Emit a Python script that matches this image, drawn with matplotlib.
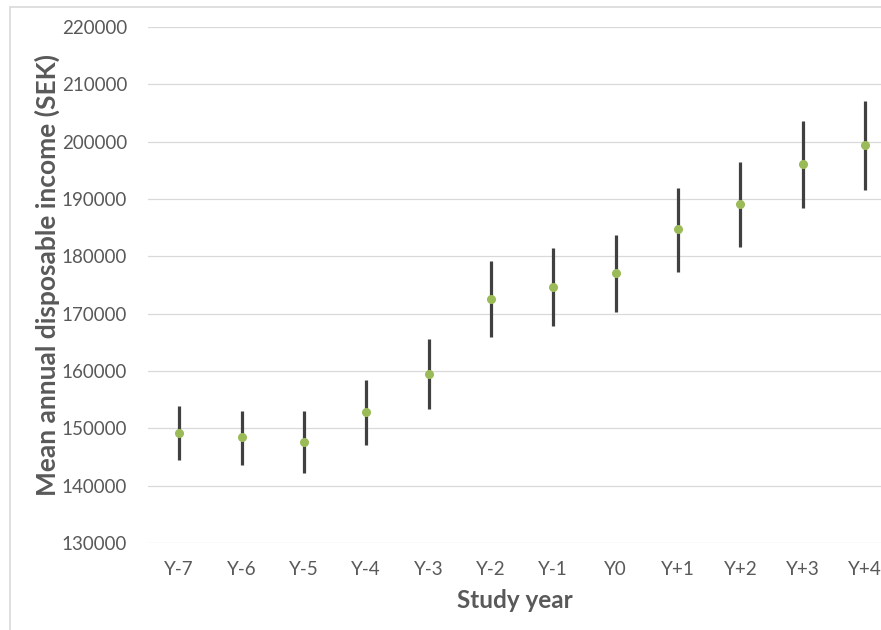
import matplotlib
matplotlib.use("Agg")
import matplotlib.pyplot as plt
from matplotlib.patches import Rectangle

plt.rcParams["font.family"] = ["Lato", "DejaVu Sans"]

# 数据
years = ["Y-7", "Y-6", "Y-5", "Y-4", "Y-3", "Y-2", "Y-1", "Y0", "Y+1", "Y+2", "Y+3", "Y+4"]
means = [149200, 148450, 147700, 152900, 159550, 172550, 174600, 177150, 184770, 189080, 196060, 199370]
lower = [144480, 143550, 142160, 147100, 153320, 165980, 167850, 170290, 177330, 181580, 188380, 191520]
upper = [153900, 153080, 153080, 158430, 165530, 179190, 181400, 183770, 191980, 196510, 203660, 207150]

TXT = "#595959"
GRID = "#D9D9D9"

W, H = 881, 630
fig = plt.figure(figsize=(W / 100, H / 100), dpi=100)
ax = fig.add_axes([148 / W, 1 - 543 / H, 733 / W, 516 / H])

# chart area border (right/bottom edges fall outside the crop)
fig.patches.append(Rectangle((10 / W, -0.5), 2, 1.5 - 7 / H, transform=fig.transFigure,
                             fill=False, edgecolor=GRID, linewidth=1.2))

x = list(range(len(years)))
err = [[m - lo for m, lo in zip(means, lower)], [up - m for m, up in zip(means, upper)]]
ax.errorbar(x, means, yerr=err, fmt="none", ecolor="#404040", elinewidth=2.3, capsize=0, zorder=3)
ax.plot(x, means, "o", color="#9BBB59", markersize=5.5, zorder=4)

ax.set_ylim(130000, 220000)
ax.set_yticks(range(130000, 220001, 10000))
step = (865 - 179) / 11
ax.set_xlim(-0.5, 11 + (881 - 865) / step)
ax.set_xticks(x)
ax.set_xticklabels(years)

ax.yaxis.grid(True, color=GRID, linewidth=0.9)
ax.set_axisbelow(True)
for s in ax.spines.values():
    s.set_visible(False)
ax.tick_params(length=0, labelsize=13.5, labelcolor=TXT)
ax.tick_params(axis="y", pad=15)
ax.tick_params(axis="x", pad=13)

ax.set_ylabel("Mean annual disposable income (SEK)", fontsize=19, fontweight="bold", color=TXT)
ax.yaxis.set_label_coords((60 - 148) / 733, (543 - 275) / 516)
ax.set_xlabel("Study year", fontsize=17.5, fontweight="bold", color=TXT, labelpad=8)

fig.savefig("out.png", dpi=100)
